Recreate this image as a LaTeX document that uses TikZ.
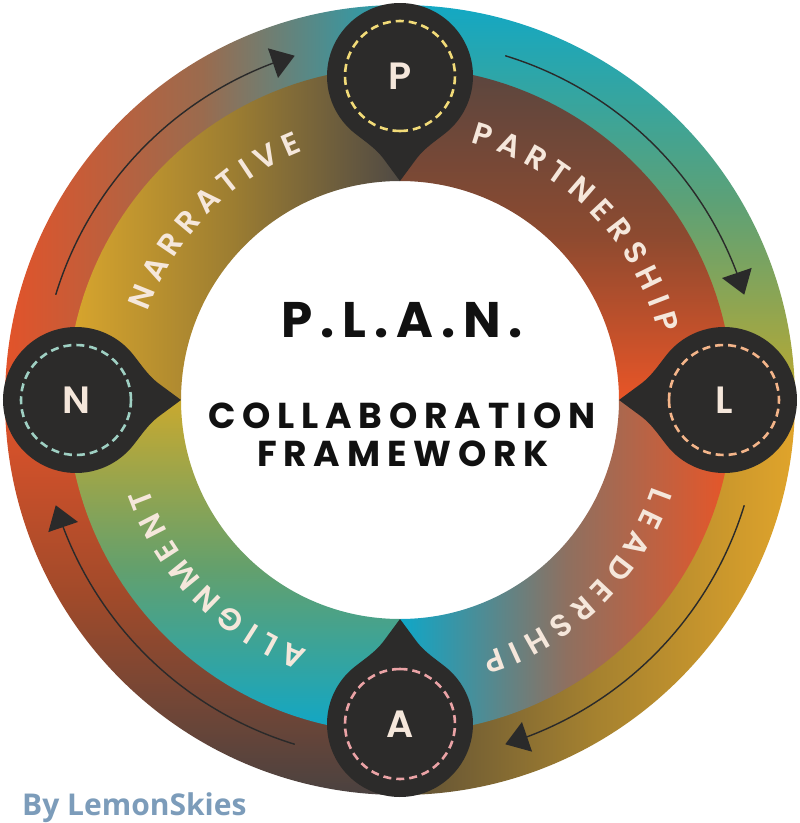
\documentclass[tikz,border=0pt]{standalone}
\usepackage{fontspec}
\setmainfont{Poppins}
\newfontfamily\titlefont{Poppins Bold}[LetterSpace=16]
\newfontfamily\subfont{Poppins Bold}[LetterSpace=19]
\newfontfamily\labelfont{Poppins SemiBold}
\newfontfamily\pinfont{Poppins SemiBold}
\newfontfamily\creditfont{Open Sans}
\usetikzlibrary{arrows.meta,bending}

\definecolor{pindark}{HTML}{2C2B2A}
\definecolor{cream}{HTML}{F5E7DB}
\definecolor{dashP}{HTML}{F2DB78}
\definecolor{dashL}{HTML}{F4B58A}
\definecolor{dashA}{HTML}{EBA3A6}
\definecolor{dashN}{HTML}{9FD0C3}
\definecolor{arrowdark}{HTML}{2A2A2A}
\definecolor{creditblue}{HTML}{7C9CBA}
\definecolor{titleblack}{HTML}{111111}
% outer band colours
\definecolor{oRed}{HTML}{E2532A}
\definecolor{oBrown}{HTML}{9A6B4E}
\definecolor{oTeal}{HTML}{1FA2B6}
\definecolor{oCyan}{HTML}{13A8C4}
\definecolor{oGreen}{HTML}{5DA176}
\definecolor{oOlive}{HTML}{BDA92F}
\definecolor{oGold}{HTML}{E0A42B}
\definecolor{oMidGold}{HTML}{A6822F}
\definecolor{oDarkOlive}{HTML}{5E5036}
\definecolor{oRust}{HTML}{A04A2A}
\definecolor{oDarkBrown}{HTML}{4A4240}
% inner band colours
\definecolor{iGold}{HTML}{D9A62D}
\definecolor{iOchre}{HTML}{9C7D31}
\definecolor{iDark}{HTML}{504A44}
\definecolor{iBrown}{HTML}{5A463F}
\definecolor{iRust}{HTML}{8C4A30}
\definecolor{iRed}{HTML}{E85527}
\definecolor{iCyan}{HTML}{0FA7C8}
\definecolor{iMauve}{HTML}{8E7060}
\definecolor{iYellow}{HTML}{C9A92F}
\definecolor{iGreen}{HTML}{64A06C}

\tikzset{
  pinbody/.style={fill=pindark},
  dashring/.style={dash pattern=on 8pt off 5pt, line width=2.6pt},
  pinletter/.style={text=cream, font=\pinfont\fontsize{38}{38}\selectfont},
  cyclearrow/.style={draw=arrowdark, line width=1.4pt, -{Triangle[length=23pt,width=31pt]}},
  arcletter/.style={text=cream, font=\labelfont\fontsize{31}{31}\selectfont, inner sep=0pt, anchor=base},
}

% #1 name prefix, #2 centre angle, #3 baseline radius, #4 letter/advance list (clockwise)
\newcommand\arcword[4]{%
  \pgfmathsetmacro\arctotal{0}%
  \foreach \chr/\adv in {#4}{\pgfmathsetmacro\arctmp{\arctotal+\adv}\global\let\arctotal\arctmp}%
  \gdef\arcpos{0}%
  \foreach \chr/\adv [count=\arci] in {#4}{%
    \pgfmathsetmacro\arcmid{\arcpos+\adv/2}%
    \pgfmathsetmacro\arcang{#2+(\arctotal/2-\arcmid)/#3*180/pi}%
    \node[arcletter, rotate=\arcang-90] (#1\arci) at (\arcang:#3) {\chr};
    \pgfmathsetmacro\arctmp{\arcpos+\adv}\global\let\arcpos\arctmp
  }%
}

\begin{document}
\begin{tikzpicture}[x=1pt,y=1pt]
\useasboundingbox (-400,-423) rectangle (400,400);
\fill[white] (-400,-423) rectangle (400,400);

% outer band
\path[top color=oCyan, bottom color=oOlive, middle color=oGreen]
  (0:395) arc[start angle=0,end angle=90,radius=395] -- (90:331) arc[start angle=90,end angle=0,radius=331] -- cycle;
\path[left color=oRed, right color=oTeal, middle color=oBrown]
  (90:395) arc[start angle=90,end angle=180,radius=395] -- (180:331) arc[start angle=180,end angle=90,radius=331] -- cycle;
\path[top color=oRed, bottom color=oDarkBrown, middle color=oRust]
  (180:395) arc[start angle=180,end angle=270,radius=395] -- (270:331) arc[start angle=270,end angle=180,radius=331] -- cycle;
\path[right color=oGold, left color=oDarkOlive, middle color=oMidGold]
  (270:395) arc[start angle=270,end angle=360,radius=395] -- (360:331) arc[start angle=360,end angle=270,radius=331] -- cycle;

% inner band
\path[top color=iBrown, bottom color=iRed, middle color=iRust]
  (0:333) arc[start angle=0,end angle=90,radius=333] -- (90:219) arc[start angle=90,end angle=0,radius=219] -- cycle;
\path[left color=iGold, right color=iDark, middle color=iOchre]
  (90:333) arc[start angle=90,end angle=180,radius=333] -- (180:219) arc[start angle=180,end angle=90,radius=219] -- cycle;
\path[top color=iYellow, bottom color=iCyan, middle color=iGreen]
  (180:333) arc[start angle=180,end angle=270,radius=333] -- (270:219) arc[start angle=270,end angle=180,radius=219] -- cycle;
\path[right color=iRed, left color=iCyan, middle color=iMauve]
  (270:333) arc[start angle=270,end angle=360,radius=333] -- (360:219) arc[start angle=360,end angle=270,radius=219] -- cycle;

% cycle arrows
\foreach \ang/\id in {90/1,0/2,270/3,180/4}{
  \coordinate (as\id) at ({\ang-17}:360);
  \draw[cyclearrow] (as\id) arc[start angle={\ang-17}, end angle={\ang-73}, radius=360];
}

% pins
\foreach \ang/\name/\dcol in {90/P/dashP, 0/L/dashL, 270/A/dashA, 180/N/dashN}{
  \begin{scope}[shift={(\ang:324)}, rotate=\ang+180]
    \fill[pinbody] (105,0) -- (82,17) .. controls (70.8,25.4) and (62.2,39.9) .. (42:73)
      arc[start angle=42, end angle=318, radius=73]
      .. controls (62.2,-39.9) and (70.8,-25.4) .. (82,-17) -- cycle;
    \draw[dashring, draw=\dcol] (0,0) circle[radius=55];
    \node[pinletter] (\name) at (0,0) {\name};
  \end{scope}
}

% curved labels (letters set one by one, reading clockwise)
\arcword{part}{44.5}{267}{P/26.6,A/29.2,R/26.9,T/25.2,N/30,E/24.4,R/26.9,S/25.8,H/30,I/16.8,P/26.6}
\arcword{lead}{-45.5}{267}{L/23,E/24.4,A/29.2,D/29.4,E/24.4,R/26.9,S/25.8,H/30,I/16.8,P/26.6}
\arcword{alig}{224.5}{267}{A/29.2,L/23,I/16.8,G/30.3,N/30,M/33.6,E/24.4,N/30,T/25.2}
\arcword{narr}{136}{267}{N/30,A/29.2,R/26.9,R/26.9,A/29.2,T/25.2,I/16.8,V/28,E/24.4}

% centre text
\node[anchor=base, text=titleblack, font=\titlefont\fontsize{50}{50}\selectfont] (title) at (2,63) {P.L.A.N.};
\node[anchor=base, text=titleblack, font=\subfont\fontsize{36}{36}\selectfont] (sub1) at (2,-28) {COLLABORATION};
\node[anchor=base, text=titleblack, font=\subfont\fontsize{36}{36}\selectfont] (sub2) at (3,-66) {FRAMEWORK};

% credit
\node[anchor=base west, inner sep=0, text=creditblue, font=\creditfont\bfseries\fontsize{30}{30}\selectfont] (credit) at (-378,-415) {By LemonSkies};
\end{tikzpicture}
\end{document}
